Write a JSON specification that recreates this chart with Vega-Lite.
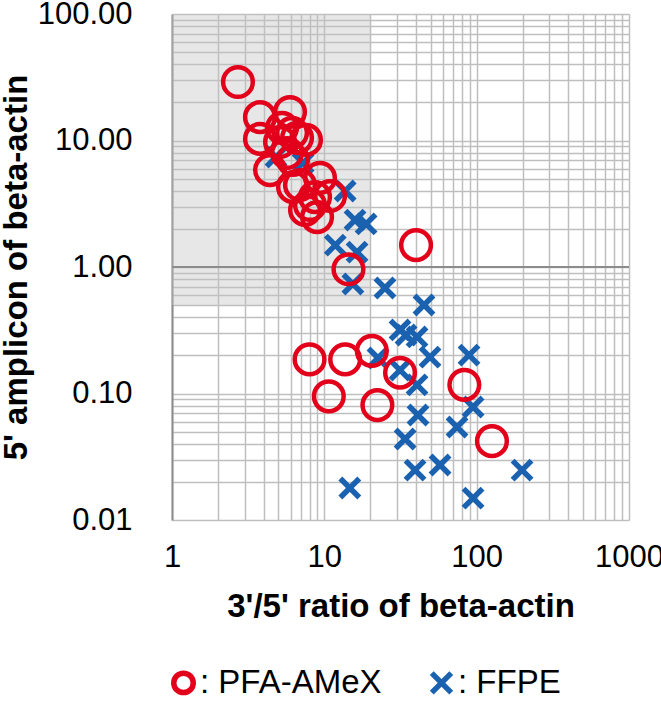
{
  "$schema": "https://vega.github.io/schema/vega-lite/v6.json",
  "width": 457,
  "height": 506,
  "autosize": {"type": "none"},
  "padding": {"left": 172, "top": 14, "right": 32, "bottom": 186},
  "background": "white",
  "config": {
    "view": {"stroke": null},
    "font": "Liberation Sans",
    "axis": {
      "labelFont": "Liberation Sans",
      "labelFontSize": 31,
      "labelColor": "black",
      "labelOverlap": false,
      "labelFlush": false,
      "labelBound": false,
      "ticks": false,
      "grid": true,
      "gridColor": "#bfbfbf",
      "gridWidth": 1.5,
      "titleFont": "Liberation Sans",
      "titleFontSize": 33,
      "titleFontWeight": "bold",
      "titleColor": "black"
    },
    "legend": {
      "orient": "none",
      "legendX": -5,
      "legendY": 652,
      "direction": "horizontal",
      "labelFont": "Liberation Sans",
      "labelFontSize": 33,
      "labelColor": "black",
      "labelLimit": 0,
      "symbolSize": 380,
      "symbolStrokeWidth": 5.5,
      "labelOffset": 0,
      "columnPadding": 38,
      "padding": 0
    }
  },
  "datasets": {
    "shade": [{"x": 1, "x2": 20, "y": 0.5, "y2": 100}],
    "ref": [{"y": 1}],
    "pts": [
      {"group": "PFA-AMeX", "x": 2.71, "y": 29.0},
      {"group": "PFA-AMeX", "x": 3.78, "y": 15.3},
      {"group": "PFA-AMeX", "x": 5.95, "y": 16.8},
      {"group": "PFA-AMeX", "x": 3.78, "y": 10.3},
      {"group": "PFA-AMeX", "x": 4.40, "y": 5.84},
      {"group": "PFA-AMeX", "x": 5.28, "y": 12.6},
      {"group": "PFA-AMeX", "x": 6.14, "y": 11.5},
      {"group": "PFA-AMeX", "x": 6.62, "y": 10.5},
      {"group": "PFA-AMeX", "x": 7.58, "y": 10.1},
      {"group": "PFA-AMeX", "x": 5.12, "y": 9.73},
      {"group": "PFA-AMeX", "x": 5.69, "y": 7.96},
      {"group": "PFA-AMeX", "x": 6.23, "y": 7.01},
      {"group": "PFA-AMeX", "x": 9.37, "y": 5.06},
      {"group": "PFA-AMeX", "x": 6.23, "y": 4.28},
      {"group": "PFA-AMeX", "x": 6.92, "y": 4.45},
      {"group": "PFA-AMeX", "x": 8.69, "y": 3.57},
      {"group": "PFA-AMeX", "x": 10.9, "y": 3.64},
      {"group": "PFA-AMeX", "x": 7.47, "y": 2.82},
      {"group": "PFA-AMeX", "x": 8.96, "y": 2.48},
      {"group": "PFA-AMeX", "x": 8.05, "y": 3.09},
      {"group": "PFA-AMeX", "x": 40, "y": 1.49},
      {"group": "PFA-AMeX", "x": 14.4, "y": 0.96},
      {"group": "PFA-AMeX", "x": 8.0, "y": 0.186},
      {"group": "PFA-AMeX", "x": 13.7, "y": 0.186},
      {"group": "PFA-AMeX", "x": 20.5, "y": 0.217},
      {"group": "PFA-AMeX", "x": 31.4, "y": 0.146},
      {"group": "PFA-AMeX", "x": 10.7, "y": 0.095},
      {"group": "PFA-AMeX", "x": 22.3, "y": 0.081},
      {"group": "PFA-AMeX", "x": 83, "y": 0.117},
      {"group": "PFA-AMeX", "x": 126, "y": 0.042},
      {"group": "FFPE", "x": 4.82, "y": 7.41},
      {"group": "FFPE", "x": 7.25, "y": 6.64},
      {"group": "FFPE", "x": 13.7, "y": 3.99},
      {"group": "FFPE", "x": 15.9, "y": 2.35},
      {"group": "FFPE", "x": 18.8, "y": 2.19},
      {"group": "FFPE", "x": 11.8, "y": 1.49},
      {"group": "FFPE", "x": 16.4, "y": 1.31},
      {"group": "FFPE", "x": 15.4, "y": 0.734},
      {"group": "FFPE", "x": 25.0, "y": 0.682},
      {"group": "FFPE", "x": 45.1, "y": 0.501},
      {"group": "FFPE", "x": 31.4, "y": 0.318},
      {"group": "FFPE", "x": 34.4, "y": 0.290},
      {"group": "FFPE", "x": 40.6, "y": 0.280},
      {"group": "FFPE", "x": 22.5, "y": 0.191},
      {"group": "FFPE", "x": 49.4, "y": 0.194},
      {"group": "FFPE", "x": 89.1, "y": 0.201},
      {"group": "FFPE", "x": 31.4, "y": 0.153},
      {"group": "FFPE", "x": 40.6, "y": 0.117},
      {"group": "FFPE", "x": 94.7, "y": 0.0782},
      {"group": "FFPE", "x": 41.2, "y": 0.0676},
      {"group": "FFPE", "x": 74.3, "y": 0.0543},
      {"group": "FFPE", "x": 33.9, "y": 0.0437},
      {"group": "FFPE", "x": 39.4, "y": 0.0248},
      {"group": "FFPE", "x": 57.5, "y": 0.0272},
      {"group": "FFPE", "x": 198.6, "y": 0.0248},
      {"group": "FFPE", "x": 14.7, "y": 0.0179},
      {"group": "FFPE", "x": 94.7, "y": 0.0149}
    ]
  },
  "layer": [
    {
      "data": {"name": "shade"},
      "mark": {"type": "rect", "fill": "#c4c4c4", "opacity": 0.4},
      "encoding": {
        "x": {
          "field": "x", "type": "quantitative",
          "scale": {"type": "log", "domain": [1, 1000], "nice": false},
          "axis": {
            "title": "3'/5' ratio of beta-actin",
            "values": [1,2,3,4,5,6,7,8,9,10,20,30,40,50,60,70,80,90,100,200,300,400,500,600,700,800,900,1000],
            "labelExpr": "abs(log(datum.value)/LN10 - round(log(datum.value)/LN10)) < 0.000001 ? format(datum.value, 'd') : ''",
            "labelPadding": 22,
            "domain": false,
            "titlePadding": 18
          }
        },
        "x2": {"field": "x2"},
        "y": {
          "field": "y", "type": "quantitative",
          "scale": {"type": "log", "domain": [0.01, 100], "nice": false},
          "axis": {
            "title": "5' amplicon of beta-actin",
            "values": [0.01,0.02,0.03,0.04,0.05,0.06,0.07,0.08,0.09,0.1,0.2,0.3,0.4,0.5,0.6,0.7,0.8,0.9,1,2,3,4,5,6,7,8,9,10,20,30,40,50,60,70,80,90,100],
            "labelExpr": "abs(log(datum.value)/LN10 - round(log(datum.value)/LN10)) < 0.000001 ? format(datum.value, '.2f') : ''",
            "labelPadding": 40,
            "domain": true,
            "domainColor": "#8c8c8c",
            "domainWidth": 2,
            "titlePadding": 4
          }
        },
        "y2": {"field": "y2"}
      }
    },
    {
      "data": {"name": "ref"},
      "mark": {"type": "rule", "color": "#8c8c8c", "strokeWidth": 2},
      "encoding": {
        "y": {"field": "y", "type": "quantitative", "scale": {"type": "log", "domain": [0.01, 100], "nice": false}, "axis": {"title": "5' amplicon of beta-actin"}}
      }
    },
    {
      "data": {"name": "pts"},
      "transform": [{"filter": "datum.group === 'FFPE'"}],
      "mark": {"type": "point", "filled": false, "size": 360, "strokeWidth": 5.5, "opacity": 1},
      "encoding": {
        "x": {"field": "x", "type": "quantitative", "scale": {"type": "log", "domain": [1, 1000], "nice": false}, "axis": {"title": "3'/5' ratio of beta-actin"}},
        "y": {"field": "y", "type": "quantitative", "scale": {"type": "log", "domain": [0.01, 100], "nice": false}, "axis": {"title": "5' amplicon of beta-actin"}},
        "shape": {
          "field": "group", "type": "nominal",
          "scale": {"domain": ["PFA-AMeX", "FFPE"], "range": ["circle", "M-1,-1L1,1M-1,1L1,-1"]},
          "legend": {"title": null, "labelExpr": "': ' + datum.label", "labelLimit": 0, "symbolStrokeWidth": 5.5, "symbolSize": 380}
        },
        "color": {
          "field": "group", "type": "nominal",
          "scale": {"domain": ["PFA-AMeX", "FFPE"], "range": ["#E3001B", "#1A62B0"]},
          "legend": {"title": null, "labelExpr": "': ' + datum.label", "labelLimit": 0, "symbolStrokeWidth": 5.5, "symbolSize": 380}
        }
      }
    },
    {
      "data": {"name": "pts"},
      "transform": [{"filter": "datum.group === 'PFA-AMeX'"}],
      "mark": {"type": "point", "filled": false, "size": 880, "strokeWidth": 4.5, "opacity": 1},
      "encoding": {
        "x": {"field": "x", "type": "quantitative", "scale": {"type": "log", "domain": [1, 1000], "nice": false}, "axis": {"title": "3'/5' ratio of beta-actin"}},
        "y": {"field": "y", "type": "quantitative", "scale": {"type": "log", "domain": [0.01, 100], "nice": false}, "axis": {"title": "5' amplicon of beta-actin"}},
        "shape": {
          "field": "group", "type": "nominal",
          "scale": {"domain": ["PFA-AMeX", "FFPE"], "range": ["circle", "M-1,-1L1,1M-1,1L1,-1"]},
          "legend": {"title": null, "labelExpr": "': ' + datum.label", "labelLimit": 0, "symbolStrokeWidth": 5.5, "symbolSize": 380}
        },
        "color": {
          "field": "group", "type": "nominal",
          "scale": {"domain": ["PFA-AMeX", "FFPE"], "range": ["#E3001B", "#1A62B0"]},
          "legend": {"title": null, "labelExpr": "': ' + datum.label", "labelLimit": 0, "symbolStrokeWidth": 5.5, "symbolSize": 380}
        }
      }
    }
  ]
}
